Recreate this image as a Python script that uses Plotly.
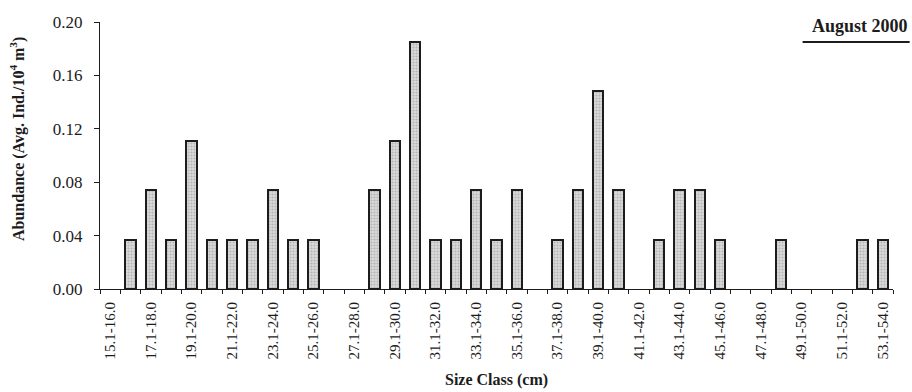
import plotly.graph_objects as go

# Size classes (cm), 1-cm bins
size_classes = [f"{s}.1-{s + 1}.0" for s in range(15, 54)]

# Average abundance per size class (Ind./10^4 m^3), August 2000
abundance = [
    0.000, 0.037, 0.074, 0.037, 0.111, 0.037, 0.037, 0.037, 0.074, 0.037,
    0.037, 0.000, 0.000, 0.074, 0.111, 0.185, 0.037, 0.037, 0.074, 0.037,
    0.074, 0.000, 0.037, 0.074, 0.148, 0.074, 0.000, 0.037, 0.074, 0.074,
    0.037, 0.000, 0.000, 0.037, 0.000, 0.000, 0.000, 0.037, 0.037,
]

y_ticks = [0.00, 0.04, 0.08, 0.12, 0.16, 0.20]

positions = list(range(len(size_classes)))
label_positions = positions[::2]
label_text = size_classes[::2]
boundaries = [p - 0.5 for p in positions] + [positions[-1] + 0.5]

# empty classes get no bar outline at all
bar_values = [v if v > 0 else None for v in abundance]

SERIF = "Liberation Serif, Times New Roman, serif"
INK = "#1c1c1c"

fig = go.Figure(
    go.Bar(
        x=positions,
        y=bar_values,
        width=0.52,
        marker=dict(
            color="#d2d2d2",
            line=dict(color=INK, width=2),
            pattern=dict(shape=".", size=3, solidity=0.4,
                         fgcolor="#8f8f8f", bgcolor="#dadada"),
        ),
        hovertext=size_classes,
        showlegend=False,
    )
)

fig.update_layout(
    width=912,
    height=392,
    margin=dict(l=100, r=19, t=22, b=103),
    paper_bgcolor="white",
    plot_bgcolor="white",
    font=dict(family=SERIF, color=INK),
    bargap=0,
)

fig.update_xaxes(
    range=[-0.5, len(size_classes) - 0.5],
    tickmode="array",
    tickvals=label_positions,
    ticktext=label_text,
    tickangle=-90,
    ticks="",
    ticklabelstandoff=6,
    tickfont=dict(size=15, family=SERIF),
    showline=True,
    linecolor=INK,
    linewidth=1.2,
    showgrid=False,
    zeroline=False,
    minor=dict(tickmode="array", tickvals=boundaries, ticks="outside",
               ticklen=4, tickcolor=INK, tickwidth=1, showgrid=False),
)

fig.update_yaxes(
    range=[0, 0.2],
    tickmode="array",
    tickvals=y_ticks,
    tickformat=".2f",
    ticks="outside",
    ticklen=5,
    tickcolor=INK,
    ticklabelstandoff=8,
    tickfont=dict(size=17, family=SERIF),
    showline=True,
    linecolor=INK,
    linewidth=1.2,
    showgrid=False,
    zeroline=False,
)

# axis titles
fig.add_annotation(
    text="<b>Abundance (Avg. Ind./10<sup>4</sup> m<sup>3</sup>)</b>",
    xref="paper", yref="paper",
    x=-0.104, y=0.56,
    xanchor="center", yanchor="middle",
    textangle=-90, showarrow=False,
    font=dict(size=16, family=SERIF, color=INK),
)
fig.add_annotation(
    text="<b>Size Class (cm)</b>",
    xref="paper", yref="paper",
    x=0.5, y=-0.34,
    xanchor="center", yanchor="middle",
    showarrow=False,
    font=dict(size=16, family=SERIF, color=INK),
)

# panel label with underline
fig.add_annotation(
    text="<b>August 2000</b>",
    xref="paper", yref="paper",
    x=1.022, y=0.985,
    xanchor="right", yanchor="middle",
    showarrow=False,
    font=dict(size=18, family=SERIF, color=INK),
)
fig.add_shape(
    type="line", xref="paper", yref="paper",
    x0=0.886, x1=1.021, y0=0.925, y1=0.925,
    line=dict(color=INK, width=2),
)

fig.write_html("out.html")
